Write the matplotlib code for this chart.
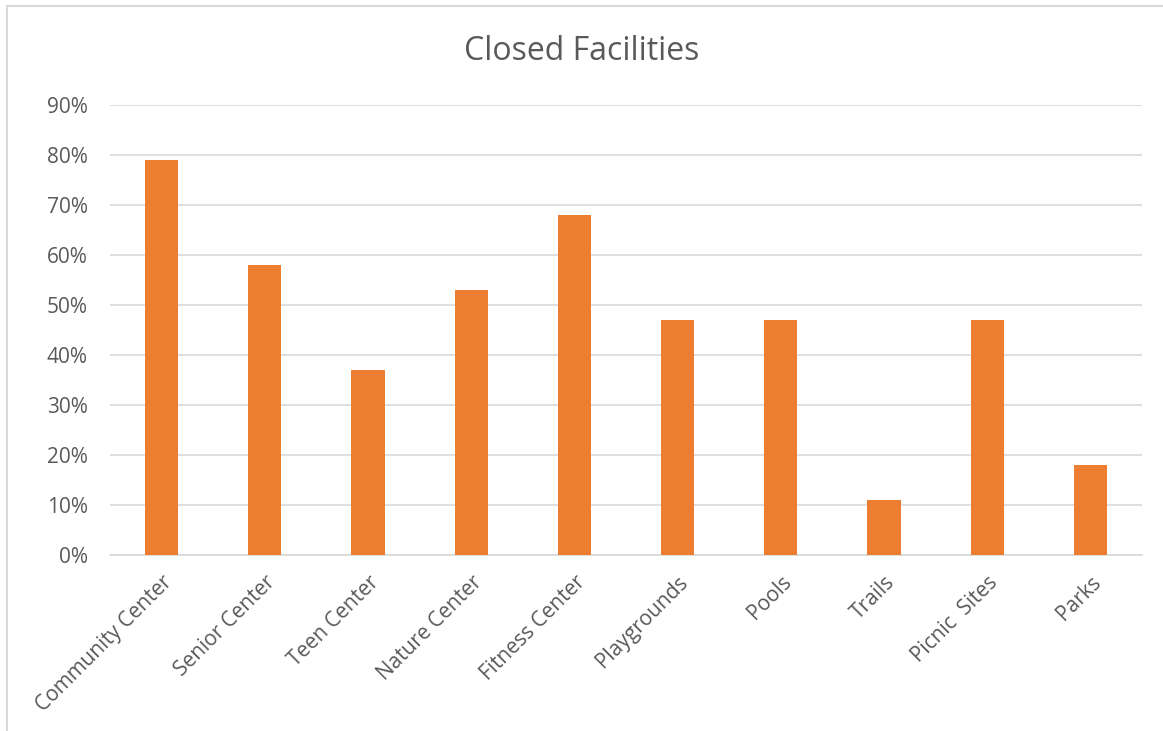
import matplotlib.pyplot as plt
import matplotlib.lines as lines
import numpy as np

categories = ["Community Center", "Senior Center", "Teen Center", "Nature Center",
              "Fitness Center", "Playgrounds", "Pools", "Trails", "Picnic  Sites", "Parks"]
closed_pct = [79, 58, 37, 53, 68, 47, 47, 11, 47, 18]
y_ticks = [0, 10, 20, 30, 40, 50, 60, 70, 80, 90]

plt.rcParams["font.family"] = ["Open Sans", "DejaVu Sans"]
text_color = "#595959"

fig = plt.figure(figsize=(11.63, 7.31), dpi=100)
# plot area in pixels: x 110..1142, y 105..555
W, H = 1163, 731
ax = fig.add_axes((110 / W, (H - 555) / H, 1032 / W, 450 / H))

x = np.arange(len(categories))
ax.bar(x, closed_pct, width=0.32, color="#ED7D31", zorder=3)

ax.set_xlim(-0.5, len(categories) - 0.5)
ax.set_ylim(0, 90)
ax.set_yticks(y_ticks)
ax.set_yticklabels([f"{v}%" for v in y_ticks])
ax.yaxis.grid(True, color="#d9d9d9", linewidth=1.2, zorder=0)
ax.set_xticks(x)
ax.set_xticklabels(categories, rotation=45, ha="right", rotation_mode="anchor")

for s in ["top", "right", "left"]:
    ax.spines[s].set_visible(False)
ax.spines["bottom"].set_color("#d9d9d9")
ax.spines["bottom"].set_linewidth(1.2)
ax.tick_params(axis="both", length=0, labelsize=15, colors=text_color)
ax.tick_params(axis="x", pad=12)
ax.tick_params(axis="y", pad=16)

fig.text(0.5, (H - 51) / H, "Closed Facilities", ha="center", va="center",
         fontsize=23, color=text_color)

# outer chart border (left and top edges visible)
border = dict(transform=fig.transFigure, figure=fig, color="#d9d9d9", linewidth=1.5)
fig.lines.extend([
    lines.Line2D((7 / W, 7 / W), (0, 1 - 6 / H), **border),
    lines.Line2D((7 / W, 1), (1 - 6 / H, 1 - 6 / H), **border),
])

fig.savefig("out.png", dpi=100)
